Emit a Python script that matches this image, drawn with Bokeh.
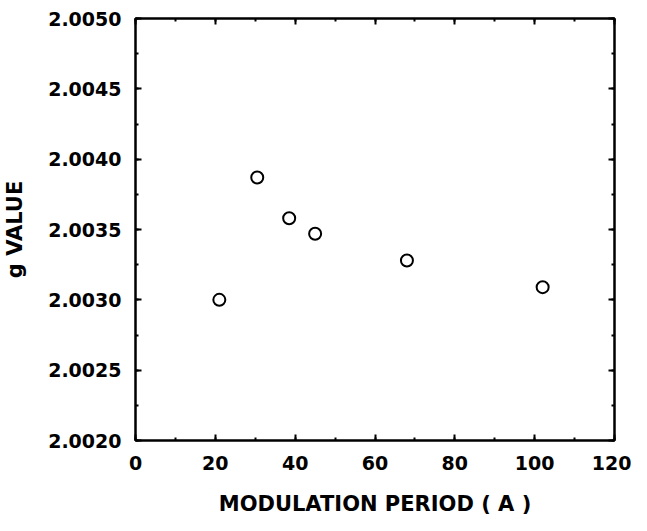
from bokeh.plotting import figure
from bokeh.models import LinearAxis, SingleIntervalTicker, Range1d, NumeralTickFormatter, CustomJSTickFormatter
from bokeh.embed import file_html
from bokeh.resources import INLINE

period = [21, 30.5, 38.5, 45, 68, 102]
g_value = [2.0030, 2.00387, 2.00358, 2.00347, 2.00328, 2.00309]

x_ticks_interval = 20
y_ticks_interval = 0.0005

FONT = "DejaVu Sans"

p = figure(width=631, height=523, output_backend="svg", toolbar_location=None,
           x_range=Range1d(0, 120), y_range=Range1d(2.0020, 2.0050),
           x_axis_location=None, y_axis_location=None)
p.min_border_left = 133
p.min_border_right = 17
p.min_border_top = 18
p.min_border_bottom = 83
p.grid.visible = False
p.outline_line_color = "black"
p.outline_line_width = 2
p.background_fill_color = "white"
p.border_fill_color = "white"

def make_axis(ticker, labels=True, label_text=None):
    ax = LinearAxis(ticker=ticker)
    ax.axis_line_width = 2
    ax.axis_line_color = "black"
    ax.major_tick_in = 6
    ax.major_tick_out = 0
    ax.minor_tick_in = 3
    ax.minor_tick_out = 0
    ax.major_tick_line_width = 2
    ax.minor_tick_line_width = 2
    if labels:
        ax.major_label_text_font = FONT
        ax.major_label_text_font_style = "bold"
        ax.major_label_text_font_size = "19px"
        ax.major_label_text_color = "black"
    else:
        ax.formatter = CustomJSTickFormatter(code="return '';")
        ax.major_label_standoff = 0
    if label_text:
        ax.axis_label = label_text
        ax.axis_label_text_font = FONT
        ax.axis_label_text_font_style = "bold"
        ax.axis_label_text_font_size = "21px"
        ax.axis_label_text_color = "black"
    return ax

xb = make_axis(SingleIntervalTicker(interval=x_ticks_interval, num_minor_ticks=2), True, "MODULATION PERIOD ( A )")
xb.major_label_standoff = 15
xb.axis_label_standoff = 19
p.add_layout(xb, "below")

yl = make_axis(SingleIntervalTicker(interval=y_ticks_interval, num_minor_ticks=2), True, "g VALUE")
yl.formatter = NumeralTickFormatter(format="0.0000")
yl.major_label_standoff = 14
yl.axis_label_standoff = 18
p.add_layout(yl, "left")

xt = make_axis(SingleIntervalTicker(interval=x_ticks_interval, num_minor_ticks=2), False)
p.add_layout(xt, "above")
yr = make_axis(SingleIntervalTicker(interval=y_ticks_interval, num_minor_ticks=2), False)
p.add_layout(yr, "right")

p.scatter(period, g_value, marker="circle", size=12, fill_color="white",
          line_color="black", line_width=2)

open("out.html", "w").write(file_html(p, INLINE))
